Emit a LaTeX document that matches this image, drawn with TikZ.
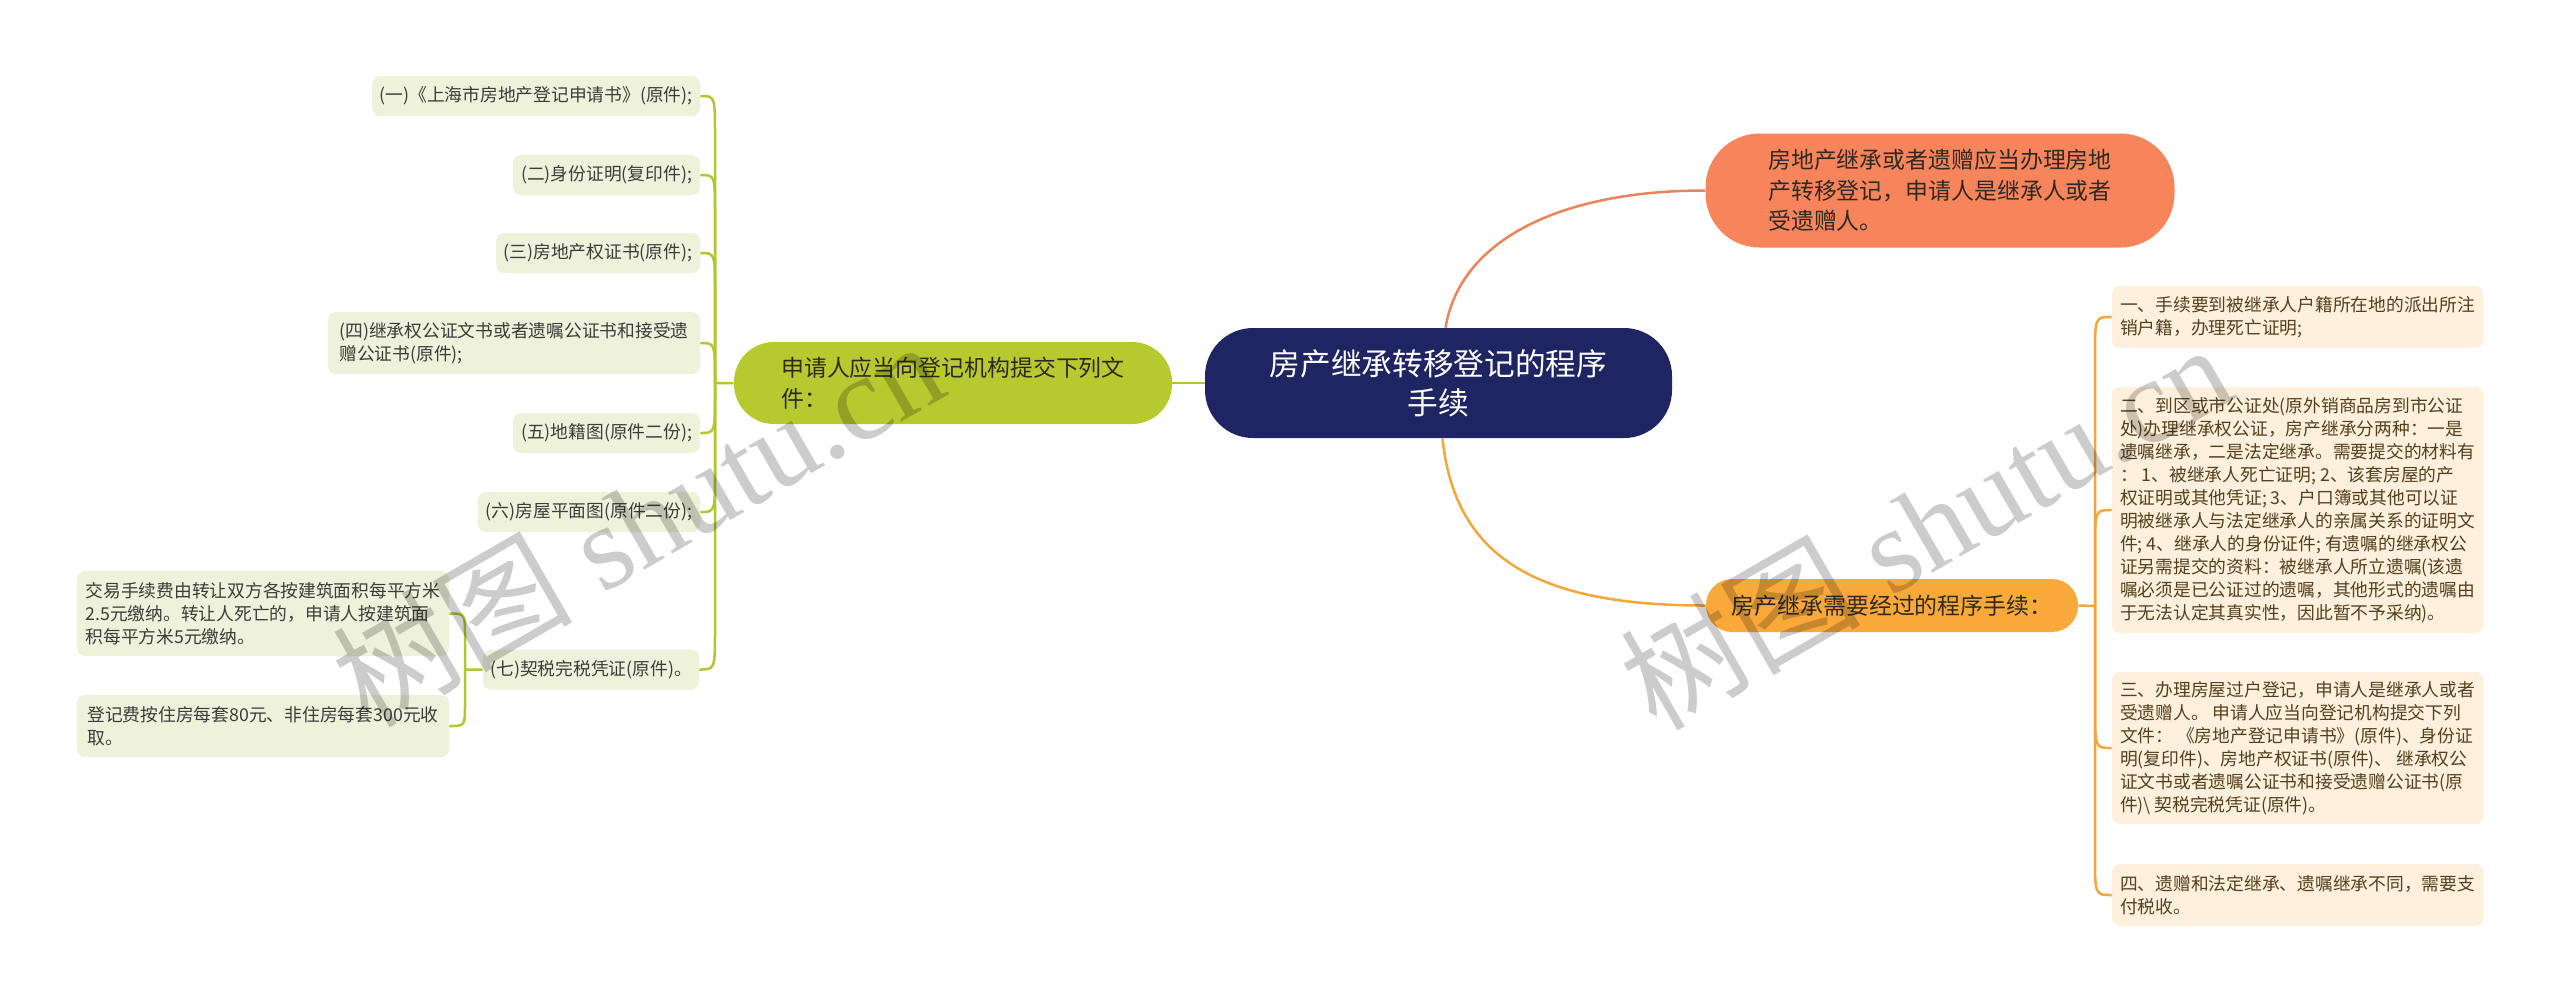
\documentclass[tikz,border=0pt]{standalone}
\usepackage{fontspec}
\setmainfont{Noto Sans CJK SC}
\newfontfamily\wmlatin{Liberation Serif}
\newfontfamily\wmcjk{Noto Sans CJK SC}
\usetikzlibrary{calc}
\definecolor{navy}{HTML}{1F2462}
\definecolor{coral}{HTML}{F8845C}
\definecolor{amber}{HTML}{F9A93A}
\definecolor{lime}{HTML}{B6C92E}
\definecolor{leafG}{HTML}{EEF2DA}
\definecolor{leafO}{HTML}{FEF0DC}
\definecolor{lineG}{HTML}{B2C62F}
\definecolor{lineO}{HTML}{F2A63C}
\definecolor{lineC}{HTML}{E9845B}
\definecolor{txtL}{HTML}{3C3C3C}
\definecolor{txtR}{HTML}{553F1E}
\definecolor{txtD}{HTML}{2E2A22}
\begin{document}
\begin{tikzpicture}[x=0.5pt,y=-0.5pt,
  box/.style={rectangle, inner sep=0pt, align=left, anchor=center},
  smallfont/.style={font=\fontsize{8.875pt}{11.5pt}\selectfont},
  leaf/.style={box, smallfont, fill=leafG, rounded corners=4pt, text=txtL},
  rleaf/.style={box, smallfont, fill=leafO, rounded corners=4pt, text=txtR},
  midfont/.style={font=\fontsize{11.45pt}{15.3pt}\selectfont},
  gline/.style={draw=lineG, line width=1.25pt},
  oline/.style={draw=lineO, line width=1.25pt},
  cline/.style={draw=lineC, line width=1.25pt},
  wm/.style={rotate=30, text=black, text opacity=0.2, anchor=center, inner sep=0pt}
]
\fill[white] (0,0) rectangle (2560,1003);
\useasboundingbox (0,0) rectangle (2560,1003);

% central
\node[box, align=center, fill=navy, text=white, rounded corners=24pt,
  minimum width=233.5pt, minimum height=55pt,
  font=\fontsize{15.35pt}{19.5pt}\selectfont] (c) at (1438.5,383) {房产继承转移登记的程序\\手续};

% main branches
\node[box, midfont, fill=coral, text=txtD, rounded corners=27pt,
  minimum width=234.5pt, minimum height=57pt] (o1) at (1940,190.5)
  {房地产继承或者遗赠应当办理房地\\产转移登记，申请人是继承人或者\\受遗赠人。};
\node[box, midfont, align=center, fill=amber, text=txtD, rounded corners=13pt,
  minimum width=186pt, minimum height=26.5pt] (o2) at (1892,605.5)
  {房产继承需要经过的程序手续：};
\node[box, midfont, fill=lime, text=txtD, rounded corners=20pt,
  minimum width=219pt, minimum height=41pt] (g) at (953,383)
  {申请人应当向登记机构提交下列文\\件：};

% left leaves
\node[leaf, minimum width=164pt, minimum height=20pt] (L1) at (536,96) {(一)《上海市房地产登记申请书》(原件);};
\node[leaf, minimum width=93.5pt, minimum height=20pt] (L2) at (606.5,175) {(二)身份证明(复印件);};
\node[leaf, minimum width=102pt, minimum height=20pt] (L3) at (598,253) {(三)房地产权证书(原件);};
\node[leaf, minimum width=186pt, minimum height=31pt] (L4) at (514,343) {(四)继承权公证文书或者遗嘱公证书和接受遗\\赠公证书(原件);};
\node[leaf, minimum width=93.5pt, minimum height=20pt] (L5) at (606.5,433) {(五)地籍图(原件二份);};
\node[leaf, minimum width=111pt, minimum height=20pt] (L6) at (589,512) {(六)房屋平面图(原件二份);};
\node[leaf, minimum width=108pt, minimum height=20pt] (L7) at (591,669.5) {(七)契税完税凭证(原件)。};
\node[leaf, minimum width=186pt, minimum height=42.5pt] (A) at (263,613.5) {交易手续费由转让双方各按建筑面积每平方米\\2.5元缴纳。转让人死亡的，申请人按建筑面\\积每平方米5元缴纳。};
\node[leaf, minimum width=186pt, minimum height=31pt] (B) at (263,726) {登记费按住房每套80元、非住房每套300元收\\取。};

% right leaves
\node[rleaf, minimum width=185.5pt, minimum height=31pt] (R1) at (2297.5,317) {一、手续要到被继承人户籍所在地的派出所注\\销户籍，办理死亡证明;};
\node[rleaf, minimum width=185.5pt, minimum height=123pt] (R2) at (2297.5,510) {二、到区或市公证处(原外销商品房到市公证\\处)办理继承权公证，房产继承分两种：一是\\遗嘱继承，二是法定继承。需要提交的材料有\\：\ 1、被继承人死亡证明; 2、该套房屋的产\\权证明或其他凭证; 3、户口簿或其他可以证\\明被继承人与法定继承人的亲属关系的证明文\\件; 4、继承人的身份证件; 有遗嘱的继承权公\\证另需提交的资料：被继承人所立遗嘱(该遗\\嘱必须是已公证过的遗嘱，其他形式的遗嘱由\\于无法认定其真实性，因此暂不予采纳)。};
\node[rleaf, minimum width=185.5pt, minimum height=76pt] (R3) at (2297.5,748) {三、办理房屋过户登记，申请人是继承人或者\\受遗赠人。 申请人应当向登记机构提交下列\\文件： 《房地产登记申请书》(原件)、身份证\\明(复印件)、房地产权证书(原件)、 继承权公\\证文书或者遗嘱公证书和接受遗赠公证书(原\\件)\textbackslash{} 契税完税凭证(原件)。};
\node[rleaf, minimum width=185.5pt, minimum height=31pt] (R4) at (2297.5,895) {四、遗赠和法定继承、遗嘱继承不同，需要支\\付税收。};

% trunk points
\coordinate (gt) at (715,383);
\coordinate (st) at (465,669.5);
\coordinate (rt) at (2095,606);

% central connectors
\draw[gline] (c.west) -- (g.east);
\draw[cline] ([xshift=3.5pt]c.north) .. controls (1460,240) and (1560,190.5) .. (o1.west);
\draw[oline] ([xshift=2pt]c.south) .. controls (1455,560) and (1540,605.5) .. (o2.west);

% left tree
\draw[gline] (g.west) -- (gt) -- ($(gt |- L1.east)+(0,40)$) .. controls (gt |- L1.east) .. (L1.east);
\draw[gline] (gt) -- ($(gt |- L2.east)+(0,40)$) .. controls (gt |- L2.east) .. (L2.east);
\draw[gline] (gt) -- ($(gt |- L3.east)+(0,40)$) .. controls (gt |- L3.east) .. (L3.east);
\draw[gline] (gt) .. controls (gt |- L4.east) .. (L4.east);
\draw[gline] (gt) -- ($(gt |- L5.east)+(0,-40)$) .. controls (gt |- L5.east) .. (L5.east);
\draw[gline] (gt) -- ($(gt |- L6.east)+(0,-40)$) .. controls (gt |- L6.east) .. (L6.east);
\draw[gline] (gt) -- ($(gt |- L7.east)+(0,-40)$) .. controls (gt |- L7.east) .. (L7.east);

% grandchildren
\draw[gline] (L7.west) -- (st) -- ($(st |- A.east)+(0,22)$) .. controls (st |- A.east) .. (A.east);
\draw[gline] (st) -- ($(st |- B.east)+(0,-22)$) .. controls (st |- B.east) .. (B.east);

% right tree
\draw[oline] (o2.east) -- (rt) -- ($(rt |- R1.west)+(0,40)$) .. controls (rt |- R1.west) .. (R1.west);
\draw[oline] (rt) -- ($(rt |- R2.west)+(0,40)$) .. controls (rt |- R2.west) .. (R2.west);
\draw[oline] (rt) -- ($(rt |- R3.west)+(0,-40)$) .. controls (rt |- R3.west) .. (R3.west);
\draw[oline] (rt) -- ($(rt |- R4.west)+(0,-40)$) .. controls (rt |- R4.west) .. (R4.west);

% watermarks
\node[wm] (wm1) at (637,522) {\fontsize{60pt}{60pt}\wmcjk 树图\wmlatin{} shutu.cn};
\node[wm] (wm2) at (1925,525) {\fontsize{60pt}{60pt}\wmcjk 树图\wmlatin{} shutu.cn};
\end{tikzpicture}
\end{document}
